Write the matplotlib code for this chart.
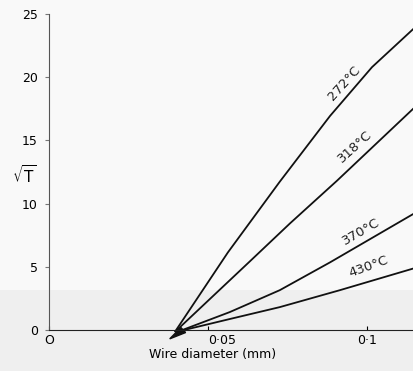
import matplotlib.pyplot as plt
import matplotlib.patches as mpatches

# values
x_272 = [0.0396, 0.0563, 0.0726, 0.0884, 0.1016, 0.1148]
y_272 = [-0.16, 6.14, 11.73, 16.93, 20.79, 23.86]
x_318 = [0.0396, 0.0632, 0.0758, 0.0906, 0.1148]
y_318 = [-0.16, 5.43, 8.43, 11.81, 17.56]
x_370 = [0.0403, 0.0569, 0.0726, 0.0884, 0.1148]
y_370 = [-0.16, 1.42, 3.15, 5.35, 9.21]
x_430 = [0.0412, 0.0569, 0.0726, 0.0915, 0.1148]
y_430 = [-0.08, 0.87, 1.81, 3.15, 4.88]

labels = ['272°C', '318°C', '370°C', '430°C']
label_x = [0.0928, 0.0962, 0.0981, 0.1006]
label_y = [19.5, 14.5, 7.8, 5.0]
label_rot = [48, 42, 30, 20]

yticks = [0, 5, 10, 15, 20, 25]
xticks = [0, 0.05, 0.1]
xticklabels = ['O', '0·05', '0·1']

fig = plt.figure(figsize=(4.14, 3.71), dpi=100)
fig.patch.set_facecolor('#f9f9f9')
# lower part of the scan is a little greyer
fig.patches.append(mpatches.Rectangle((0, 0), 1, 0.218, transform=fig.transFigure,
                                      facecolor='#efefef', edgecolor='none', zorder=-5))
ax = fig.add_axes([0.118, 0.1105, 0.882, 0.852])
ax.patch.set_alpha(0)

for xs, ys in [(x_272, y_272), (x_318, y_318), (x_370, y_370), (x_430, y_430)]:
    ax.plot(xs, ys, color='#111111', lw=1.3, solid_capstyle='butt', clip_on=False)

# little arrowhead where the lines meet
ax.fill([0.0380, 0.0415, 0.0430], [-0.7, 0.2, -0.2], color='#111111', clip_on=False)

for t, lx, ly, r in zip(labels, label_x, label_y, label_rot):
    ax.text(lx, ly, t, rotation=r, ha='center', va='center', fontsize=9.5,
            color='#222222', rotation_mode='anchor')

ax.set_xlim(0, 0.1148)
ax.set_ylim(0, 25)
ax.set_yticks(yticks)
ax.set_xticks(xticks)
ax.set_xticklabels(xticklabels)
ax.get_xticklabels()[1].set_ha('left')
ax.spines['top'].set_visible(False)
ax.spines['right'].set_visible(False)
ax.spines['left'].set_color('#555555')
ax.spines['bottom'].set_color('#222222')
ax.tick_params(axis='y', direction='out', length=3, labelsize=9, pad=5, color='#777777')
ax.tick_params(axis='x', direction='in', length=3, labelsize=9, pad=3)

ax.text(0.449, -0.079, 'Wire diameter (mm)', transform=ax.transAxes, fontsize=9,
        ha='center', va='center')
ax.text(-0.066, 0.49, r'$\sqrt{\mathrm{T}}$', transform=ax.transAxes, fontsize=11,
        ha='center', va='center')

fig.savefig('out.png', dpi=100, facecolor=fig.get_facecolor())
